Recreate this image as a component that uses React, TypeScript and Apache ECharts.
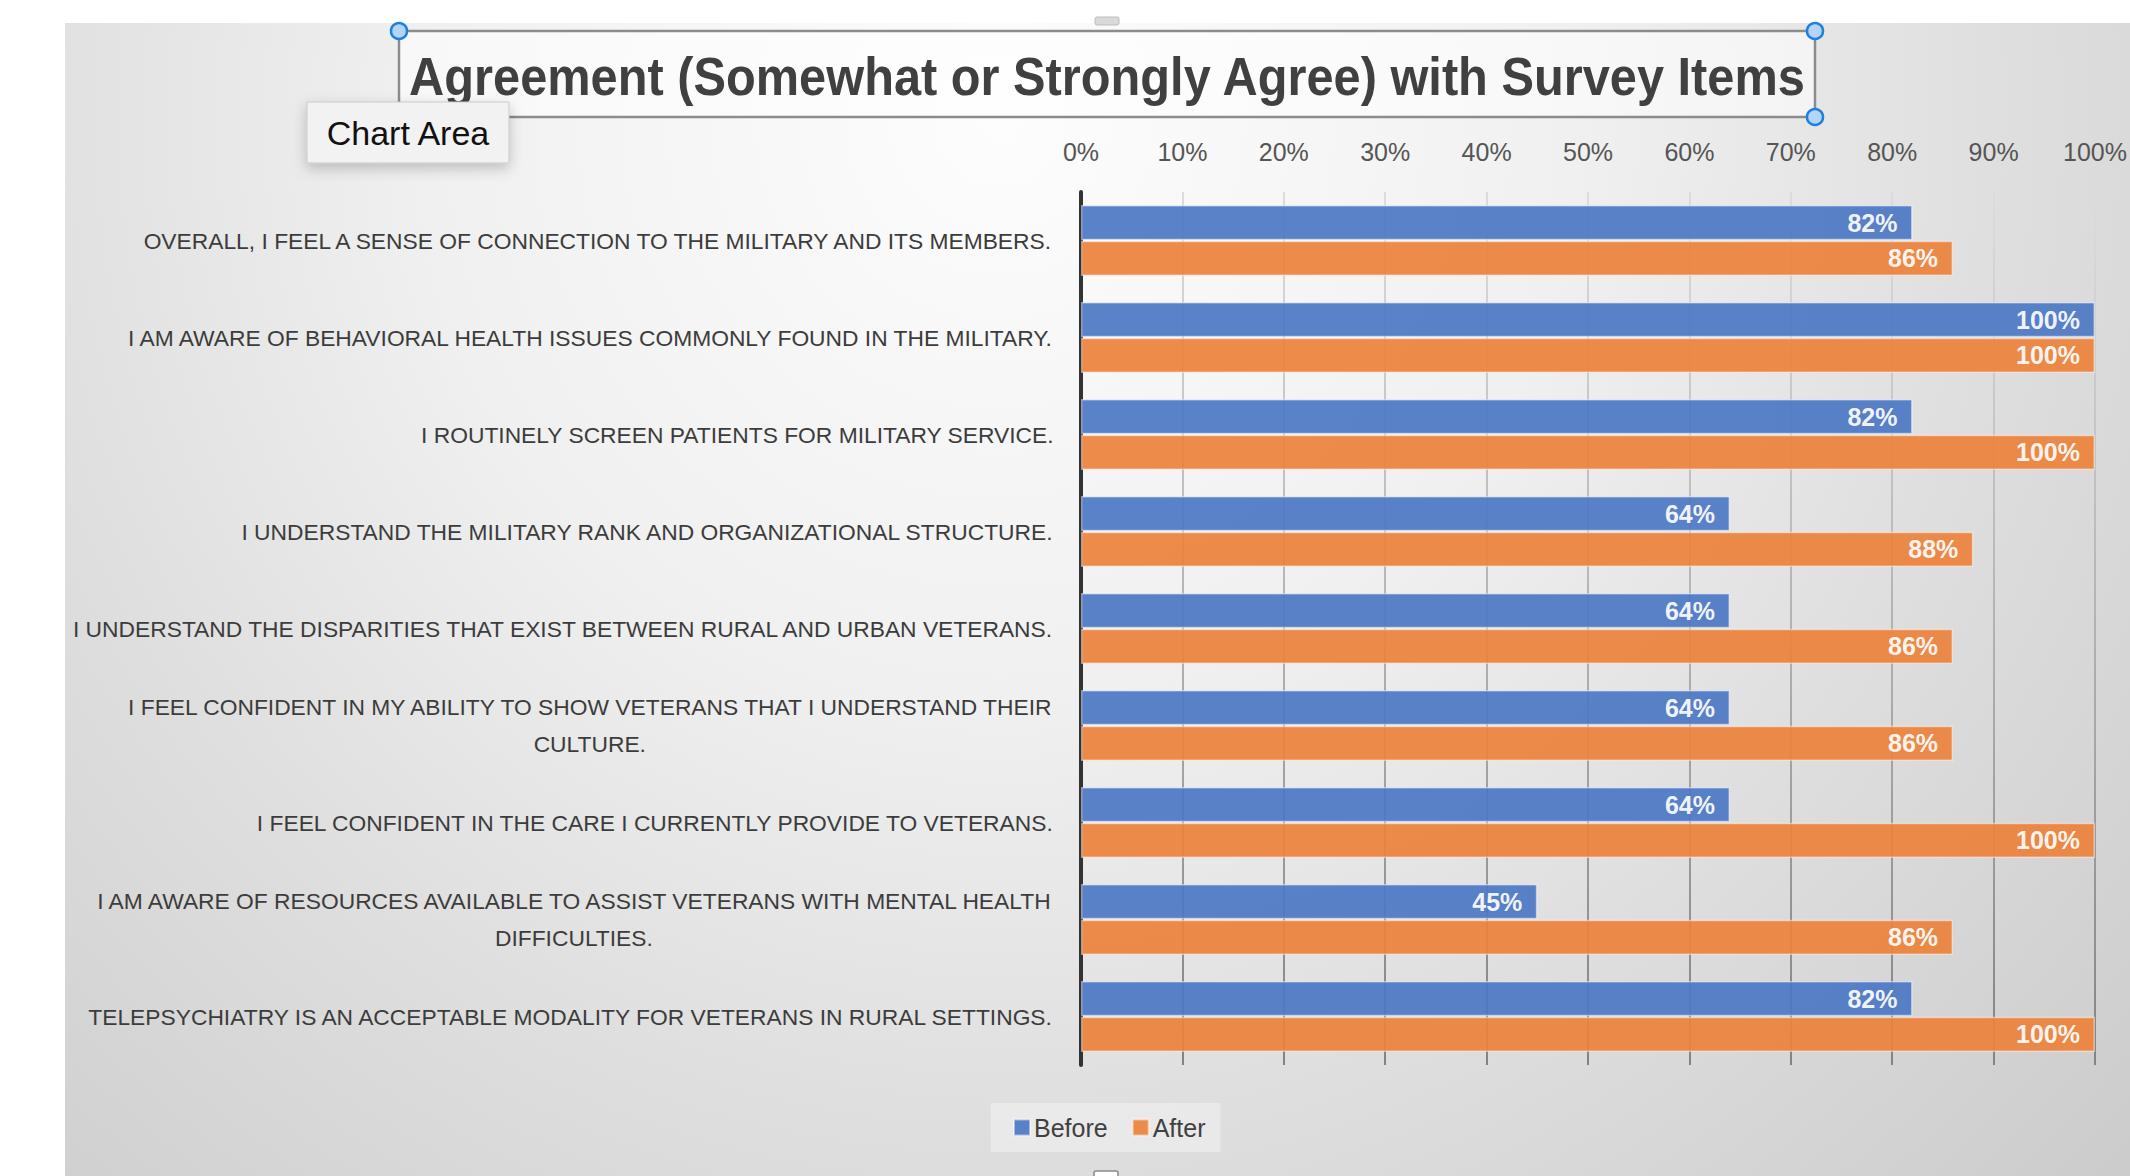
import React, { useEffect, useRef } from "react";
import * as echarts from "echarts";

const categories: string[] = [
  "OVERALL, I FEEL A SENSE OF CONNECTION TO THE MILITARY AND ITS MEMBERS.",
  "I AM AWARE OF BEHAVIORAL HEALTH ISSUES COMMONLY FOUND IN THE MILITARY.",
  "I ROUTINELY SCREEN PATIENTS FOR MILITARY SERVICE.",
  "I UNDERSTAND THE MILITARY RANK AND ORGANIZATIONAL STRUCTURE.",
  "I UNDERSTAND THE DISPARITIES THAT EXIST BETWEEN RURAL AND URBAN VETERANS.",
  "I FEEL CONFIDENT IN MY ABILITY TO SHOW VETERANS THAT I UNDERSTAND THEIR CULTURE.",
  "I FEEL CONFIDENT IN THE CARE I CURRENTLY PROVIDE TO VETERANS.",
  "I AM AWARE OF RESOURCES AVAILABLE TO ASSIST VETERANS WITH MENTAL HEALTH DIFFICULTIES.",
  "TELEPSYCHIATRY IS AN ACCEPTABLE MODALITY FOR VETERANS IN RURAL SETTINGS.",
];
const beforeValues: number[] = [82, 100, 82, 64, 64, 64, 64, 45, 82];
const afterValues: number[] = [86, 100, 100, 88, 86, 86, 100, 86, 100];
const seriesNames: string[] = ["Before", "After"];
const titleText = "Agreement (Somewhat or Strongly Agree) with Survey Items";

const FONT = "'Liberation Sans', Arial, sans-serif";

function wrapLabel(s: string, max = 75): string {
  const words = s.split(" ");
  const lines: string[] = [];
  let cur = "";
  for (const w of words) {
    const next = cur ? cur + " " + w : w;
    if (next.length > max && cur) {
      lines.push(cur);
      cur = w;
    } else {
      cur = next;
    }
  }
  if (cur) lines.push(cur);
  return lines.join("\n");
}

export default function App() {
  const ref = useRef<HTMLDivElement>(null);
  useEffect(() => {
    document.body.style.margin = "0";
    if (!ref.current) return;
    const chart = echarts.init(ref.current, undefined, { renderer: "svg" });
    const gridGrad = {
      type: "linear",
      global: true,
      x: 0,
      y: 192,
      x2: 0,
      y2: 1066,
      colorStops: [
        { offset: 0, color: "#dcdcdc" },
        { offset: 0.5, color: "#b2b2b2" },
        { offset: 1, color: "#838383" },
      ],
    };
    const valueLabel = {
      show: true,
      position: "insideRight",
      distance: 15,
      formatter: "{c}%",
      color: "#ffffff",
      fontWeight: "bold",
      fontSize: 25,
      fontFamily: FONT,
    };
    chart.setOption({
      animation: false,
      backgroundColor: "#ffffff",
      textStyle: { fontFamily: FONT },
      grid: {
        left: 1081,
        right: 35,
        top: 192,
        bottom: 111,
        containLabel: false,
        outerBoundsMode: "none",
      },
      legend: {
        data: seriesNames,
        left: 991,
        top: 1103,
        padding: [12, 15, 12, 22],
        backgroundColor: "rgba(255,255,255,0.35)",
        itemWidth: 16,
        itemHeight: 16,
        itemGap: 24,
        icon: "rect",
        textStyle: { fontSize: 25, color: "#404040", fontFamily: FONT, padding: [0, 0, 0, -1] },
      },
      xAxis: {
        type: "value",
        position: "top",
        min: 0,
        max: 100,
        interval: 10,
        axisLine: { show: false },
        axisTick: { show: false },
        axisLabel: {
          formatter: "{value}%",
          fontSize: 25,
          color: "#555555",
          margin: 28,
          fontFamily: FONT,
        },
        splitLine: { show: true, lineStyle: { color: gridGrad, width: 2 } },
      },
      yAxis: {
        type: "category",
        inverse: true,
        data: categories,
        axisLine: { show: true, lineStyle: { color: "#333333", width: 4 } },
        axisTick: { show: false },
        axisLabel: {
          margin: 27,
          formatter: (v: string) => "{c|" + wrapLabel(v) + "}",
          rich: {
            c: {
              align: "center",
              fontSize: 22.8,
              lineHeight: 37,
              color: "#3c3c3c",
              fontFamily: FONT,
            },
          },
        },
      },
      series: [
        {
          name: seriesNames[0],
          type: "bar",
          data: beforeValues,
          barCategoryGap: "27%",
          barGap: "2%",
          itemStyle: {
            color: "#4d79c5",
            opacity: 0.93,
            borderColor: "rgba(255,255,255,0.5)",
            borderWidth: 1.5,
          },
          label: valueLabel,
        },
        {
          name: seriesNames[1],
          type: "bar",
          data: afterValues,
          barCategoryGap: "27%",
          barGap: "2%",
          itemStyle: {
            color: "#ec823d",
            opacity: 0.93,
            borderColor: "rgba(255,255,255,0.5)",
            borderWidth: 1.5,
          },
          label: valueLabel,
        },
      ],
      graphic: [
        {
          type: "rect",
          z: -10,
          silent: true,
          shape: { x: 65, y: 23, width: 2065, height: 1153 },
          style: {
            fill: {
              type: "radial",
              global: true,
              x: 1000,
              y: 120,
              r: 1650,
              colorStops: [
                { offset: 0, color: "#fdfdfd" },
                { offset: 0.35, color: "#f0f0f0" },
                { offset: 0.6, color: "#dfdfdf" },
                { offset: 1, color: "#c8c8c8" },
              ],
            },
          },
        },
        {
          type: "rect",
          z: 50,
          silent: true,
          shape: { x: 1095, y: 17, width: 24, height: 8, r: 2 },
          style: { fill: "#d9d9d9", stroke: "#bdbdbd", lineWidth: 1 },
        },
        {
          type: "rect",
          z: 50,
          silent: true,
          shape: { x: 1094, y: 1171, width: 24, height: 10, r: 2 },
          style: { fill: "#ffffff", stroke: "#8a8a8a", lineWidth: 1.5 },
        },
        {
          type: "rect",
          z: 50,
          silent: true,
          shape: { x: 399, y: 31, width: 1416, height: 86 },
          style: { fill: "rgba(255,255,255,0.55)", stroke: "#8c8c8c", lineWidth: 2.5 },
        },
        {
          type: "text",
          z: 55,
          silent: true,
          x: 1107,
          y: 77,
          scaleX: 0.92,
          style: {
            text: titleText,
            fontSize: 53,
            fontWeight: "bold",
            fontFamily: FONT,
            fill: "#404040",
            align: "center",
            verticalAlign: "middle",
          },
        },
        ...[
          [399, 31],
          [1815, 31],
          [1815, 117],
          [399, 117],
        ].map(([cx, cy]) => ({
          type: "circle",
          z: 60,
          silent: true,
          shape: { cx, cy, r: 8 },
          style: { fill: "#b5d5f6", stroke: "#1e80e2", lineWidth: 2.5 },
        })),
        {
          type: "rect",
          z: 70,
          silent: true,
          shape: { x: 307, y: 102, width: 202, height: 61 },
          style: {
            fill: "#f2f2f2",
            stroke: "#c9c9c9",
            lineWidth: 1,
            shadowBlur: 14,
            shadowColor: "rgba(0,0,0,0.22)",
            shadowOffsetY: 5,
          },
        },
        {
          type: "text",
          z: 75,
          silent: true,
          x: 408,
          y: 133,
          style: {
            text: "Chart Area",
            fontSize: 34,
            fontFamily: FONT,
            fill: "#111111",
            align: "center",
            verticalAlign: "middle",
          },
        },
      ],
    });
    return () => chart.dispose();
  }, []);
  return <div ref={ref} style={{ width: 2130, height: 1176 }} />;
}
